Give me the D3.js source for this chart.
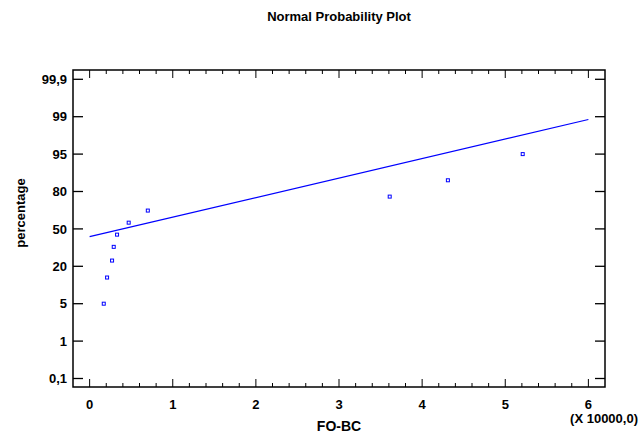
<!DOCTYPE html>
<html>
<head>
<meta charset="utf-8">
<script src="https://cdn.jsdelivr.net/npm/d3@7"></script>
<style>
  body { margin: 0; background: #fff; }
  text { font-family: "Liberation Sans Narrow", "Arial Narrow", "Liberation Sans", sans-serif; font-weight: bold; }
</style>
</head>
<body>
<script>
// Tick labels on the probability axis
const pctTicks = [0.1, 1, 5, 20, 50, 80, 95, 99, 99.9];
const pctLabels = ["0,1", "1", "5", "20", "50", "80", "95", "99", "99,9"];
const xTicks = [0, 1, 2, 3, 4, 5, 6];

// Data points (FO-BC in units of 10000, cumulative percentage)
const foValues = [0.17, 0.21, 0.27, 0.29, 0.33, 0.47, 0.70, 3.61, 4.31, 5.21];
const pctValues = [5, 15.5, 24.6, 35.6, 45.4, 55, 64.7, 75.9, 84.5, 95];

// Fitted reference line end points
const lineX = [0, 6];
const linePct = [43.8, 98.7];

const W = 642, H = 441;
const margin = { top: 70, right: 37, bottom: 54, left: 73 };
const width = W - margin.left - margin.right;
const height = H - margin.top - margin.bottom;

const svg = d3.select("body").append("svg")
    .attr("width", W)
    .attr("height", H);

const g = svg.append("g")
    .attr("transform", `translate(${margin.left},${margin.top})`);

const x = d3.scaleLinear().domain([-0.2, 6.2]).range([0, width]);

// probability axis: labels evenly spaced
const step = 37.4;
const yTop = 9.3;
const y = d3.scaleLinear()
    .domain(pctTicks)
    .range(pctTicks.map((d, i) => yTop + (pctTicks.length - 1 - i) * step));

// frame
g.append("rect")
    .attr("width", width)
    .attr("height", height)
    .attr("fill", "none")
    .attr("stroke", "#000")
    .attr("stroke-width", 1.5);

// x ticks (bottom and top), inward
const minor = d3.range(-0.2, 6.21, 0.2).map(d => +d.toFixed(1)).filter(d => d > -0.2 && d < 6.2);
["bottom", "top"].forEach(side => {
  const y0 = side === "bottom" ? height : 0;
  const dir = side === "bottom" ? -1 : 1;
  g.append("g").selectAll("line")
    .data(minor)
    .join("line")
    .attr("x1", d => x(d)).attr("x2", d => x(d))
    .attr("y1", y0)
    .attr("y2", d => y0 + dir * (Number.isInteger(d) ? 8 : 4))
    .attr("stroke", "#000")
    .attr("stroke-width", 1);
});

// y ticks (left and right), inward
["left", "right"].forEach(side => {
  const x0 = side === "left" ? 0 : width;
  const dir = side === "left" ? 1 : -1;
  g.append("g").selectAll("line")
    .data(pctTicks)
    .join("line")
    .attr("x1", x0)
    .attr("x2", x0 + dir * 10)
    .attr("y1", d => y(d)).attr("y2", d => y(d))
    .attr("stroke", "#000")
    .attr("stroke-width", 1.3);
});

// y tick labels
g.append("g").selectAll("text")
    .data(pctTicks)
    .join("text")
    .attr("x", -6)
    .attr("y", d => y(d))
    .attr("dy", "0.36em")
    .attr("text-anchor", "end")
    .style("font-size", "13px")
    .text((d, i) => pctLabels[i]);

// x tick labels
g.append("g").selectAll("text")
    .data(xTicks)
    .join("text")
    .attr("x", d => x(d))
    .attr("y", height + 22)
    .attr("text-anchor", "middle")
    .style("font-size", "13px")
    .text(d => d);

// fitted line
g.append("path")
    .datum(lineX.map((d, i) => [d, linePct[i]]))
    .attr("fill", "none")
    .attr("stroke", "#0000ff")
    .attr("stroke-width", 1.2)
    .attr("d", d3.line().x(d => x(d[0])).y(d => y(d[1])));

// points
g.append("g").selectAll("rect")
    .data(foValues.map((d, i) => [d, pctValues[i]]))
    .join("rect")
    .attr("x", d => x(d[0]) - 1.5)
    .attr("y", d => y(d[1]) - 1.5)
    .attr("width", 3)
    .attr("height", 3)
    .attr("fill", "none")
    .attr("stroke", "#0000ff")
    .attr("stroke-width", 1);

// titles
svg.append("text")
    .attr("x", 339)
    .attr("y", 21)
    .attr("text-anchor", "middle")
    .style("font-size", "13px")
    .text("Normal Probability Plot");

svg.append("text")
    .attr("x", 339)
    .attr("y", 431)
    .attr("text-anchor", "middle")
    .style("font-size", "14px")
    .text("FO-BC");

svg.append("text")
    .attr("transform", "translate(25,213) rotate(-90)")
    .attr("text-anchor", "middle")
    .style("font-size", "13px")
    .text("percentage");

svg.append("text")
    .attr("x", 638)
    .attr("y", 423)
    .attr("text-anchor", "end")
    .style("font-size", "13px")
    .text("(X 10000,0)");
</script>
</body>
</html>
